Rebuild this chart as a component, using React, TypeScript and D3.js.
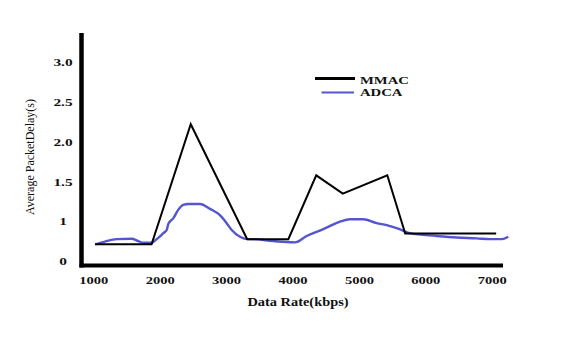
import React from "react";
import * as d3 from "d3";

const xTicks = [1000, 2000, 3000, 4000, 5000, 6000, 7000];
const yTickValues = [0, 1, 1.5, 2, 2.5, 3];
const yTickLabels = ["0", "1", "1.5", "2.0", "2.5", "3.0"];

const mmacX = [1020, 1870, 2460, 3310, 3930, 4350, 4750, 5420, 5690, 7060];
const mmacY = [0.43, 0.43, 2.22, 0.56, 0.56, 1.58, 1.35, 1.58, 0.7, 0.7];

const adcaX = [1020, 1169, 1345, 1571, 1670, 1745, 1872, 1947, 2047, 2098, 2122, 2197, 2273, 2348, 2423, 2599, 2750, 2900, 3001, 3077, 3202, 3327, 3402, 3703, 4030, 4206, 4456, 4708, 4858, 5059, 5260, 5411, 5605, 5756, 6164, 6465, 6766, 6967, 7143, 7242];
const adcaY = [0.43, 0.5, 0.56, 0.57, 0.51, 0.47, 0.47, 0.56, 0.71, 0.79, 0.94, 1.04, 1.15, 1.21, 1.22, 1.22, 1.16, 1.08, 0.96, 0.79, 0.62, 0.56, 0.56, 0.51, 0.48, 0.64, 0.81, 1.0, 1.03, 1.03, 0.96, 0.91, 0.81, 0.71, 0.64, 0.6, 0.58, 0.56, 0.56, 0.62];

const seriesNames = ["MMAC", "ADCA"];

const FONT = "'Liberation Serif', 'Times New Roman', serif";

export default function App() {
  const x = d3.scaleLinear().domain([1000, 7000]).range([93.8, 492.2]);
  const y = d3
    .scaleLinear()
    .domain(yTickValues)
    .range([261.5, 221.6, 181.7, 141.8, 101.9, 62]);

  const line = d3
    .line<[number, number]>()
    .x((d) => x(d[0]))
    .y((d) => y(d[1]));
  const smooth = d3
    .line<[number, number]>()
    .x((d) => x(d[0]))
    .y((d) => y(d[1]))
    .curve(d3.curveMonotoneX);

  const mmac = mmacX.map((v, i) => [v, mmacY[i]] as [number, number]);
  const adca = adcaX.map((v, i) => [v, adcaY[i]] as [number, number]);

  const axisX0 = 81.5;
  const axisY0 = 265.5;

  return (
    <svg width={575} height={354} style={{ position: "absolute", left: 0, top: 0, background: "#fff" }}>
      {/* axes */}
      <line x1={axisX0} y1={33} x2={axisX0} y2={axisY0 + 2} stroke="#000" strokeWidth={4.5} />
      <line x1={axisX0 - 2} y1={axisY0} x2={503} y2={axisY0} stroke="#000" strokeWidth={4} />

      {/* y tick labels */}
      {yTickValues.map((v, i) => (
        <text
          key={v}
          transform={`translate(63,${y(v) + 3.8}) scale(1.4,1)`}
          textAnchor="middle"
          fontFamily={FONT}
          fontWeight="bold"
          fontSize={11}
          fill="#111"
        >
          {yTickLabels[i]}
        </text>
      ))}

      {/* x tick labels */}
      {xTicks.map((v) => (
        <text
          key={v}
          transform={`translate(${x(v)},283.5) scale(1.32,1)`}
          textAnchor="middle"
          fontFamily={FONT}
          fontWeight="bold"
          fontSize={11}
          fill="#111"
        >
          {v}
        </text>
      ))}

      {/* axis titles */}
      <text
        transform="translate(298,306) scale(1.2,1)"
        textAnchor="middle"
        fontFamily={FONT}
        fontWeight="bold"
        fontSize={12}
        fill="#111"
      >
        Data Rate(kbps)
      </text>
      <text
        transform="translate(34,157) rotate(-90)"
        textAnchor="middle"
        fontFamily={FONT}
        fontSize={12}
        fill="#111"
      >
        Average PacketDelay(s)
      </text>

      {/* series */}
      <path d={smooth(adca) || ""} fill="none" stroke="#5555d0" strokeWidth={2.4} strokeLinejoin="round" />
      <path d={line(mmac) || ""} fill="none" stroke="#000" strokeWidth={2} strokeLinejoin="miter" />

      {/* legend */}
      <line x1={315} y1={78.5} x2={355} y2={78.5} stroke="#000" strokeWidth={3} />
      <line x1={321.5} y1={92.5} x2={354} y2={92.5} stroke="#5555d0" strokeWidth={2} />
      <text transform="translate(360,83.5) scale(1.4,1)" fontFamily={FONT} fontWeight="bold" fontSize={10.5} fill="#111">
        {seriesNames[0]}
      </text>
      <text transform="translate(360,96) scale(1.4,1)" fontFamily={FONT} fontWeight="bold" fontSize={10.5} fill="#111">
        {seriesNames[1]}
      </text>
    </svg>
  );
}
